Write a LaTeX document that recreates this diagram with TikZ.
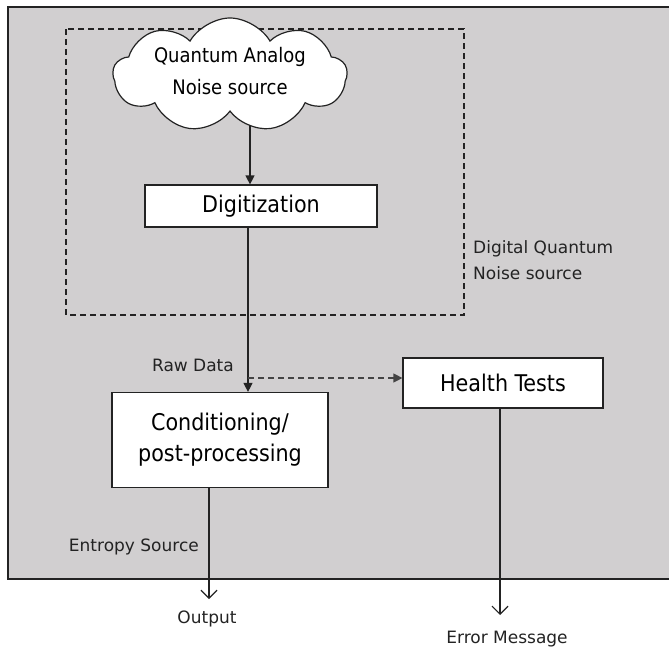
\documentclass[tikz,border=0pt]{standalone}
\usepackage{fontspec}
\setmainfont{DejaVu Sans}
\newfontfamily\boxfont{DejaVu Sans Condensed}
\usetikzlibrary{shapes,arrows.meta,positioning}
\definecolor{panelgray}{RGB}{209,207,208}
\definecolor{inkgray}{RGB}{35,35,35}

\begin{document}
\begin{tikzpicture}[x=1pt,y=-1pt,
    blk/.style={draw=inkgray,line width=1.2pt,fill=white,rectangle,inner sep=0pt,
        font=\boxfont\fontsize{23}{31}\selectfont,align=center},
    lbl/.style={font=\fontsize{17}{26}\selectfont,text=inkgray,inner sep=0pt,align=left},
    flow/.style={-{Triangle[length=9pt,width=9pt]},line width=1.2pt,draw=inkgray},
    sidefeed/.style={-{Triangle[length=9pt,width=9pt]},line width=1.2pt,
        dash pattern=on 6pt off 4pt,draw=inkgray!85},
    outflow/.style={-{Straight Barb[length=8pt,width=16pt,line width=1.2pt]},
        line width=1.2pt,draw=inkgray}]
    \useasboundingbox (0,0) rectangle (669,650);

    % Background panel
    \fill[panelgray] (8,7) rectangle (669,579);
    \draw[line width=1.4pt,inkgray] (669,7) -- (8,7) -- (8,579) -- (669,579);

    % Digital noise source boundary
    \draw[line width=1.1pt,inkgray,dash pattern=on 6pt off 4pt] (66,29) rectangle (464,315);

    % Analog noise source
    \node[cloud,cloud puffs=9,cloud puff arc=120,cloud ignores aspect,draw=inkgray,
        line width=1.2pt,fill=white,minimum width=234pt,minimum height=114pt] (analog) at (230,75) {};
    \node[font=\boxfont\fontsize{20}{32}\selectfont,align=center,inner sep=0pt] (analogtxt)
        at (230,71) {Quantum Analog\\Noise source};

    % Digitization
    \node[blk,minimum width=232pt,minimum height=42pt] (digit) at (261,206) {Digitization};
    \node[lbl,anchor=west] (dqlbl) at (473,260) {Digital Quantum\\Noise source};

    % Health tests
    \node[blk,minimum width=200pt,minimum height=50pt] (health) at (503,383) {Health Tests};

    % Conditioning
    \node[blk,minimum width=216pt,minimum height=95pt] (cond) at (220,440)
        {Conditioning/\\post-processing};

    % Labels
    \node[lbl,anchor=east] (rawlbl) at (234,365) {Raw Data};
    \node[lbl,anchor=east] (entlbl) at (199,547) {Entropy Source};
    \node[lbl] (outlbl) at (207,619) {Output};
    \node[lbl] (errlbl) at (507,639) {Error Message};

    \coordinate (cloudfoot) at (250,125);
    \coordinate (tap) at (248,378);
    \coordinate (outtip) at (209,599);
    \coordinate (errtip) at (500,615);

    % Arrows
    \draw[flow] (cloudfoot) -- (cloudfoot |- digit.north);
    \draw[flow] (digit.south -| tap) -- (cond.north -| tap);
    \draw[sidefeed] (tap) -- (health.west |- tap);
    \draw[outflow] (cond.south -| outtip) -- (outtip);
    \draw[outflow] (health.south -| errtip) -- (errtip);
\end{tikzpicture}
\end{document}
